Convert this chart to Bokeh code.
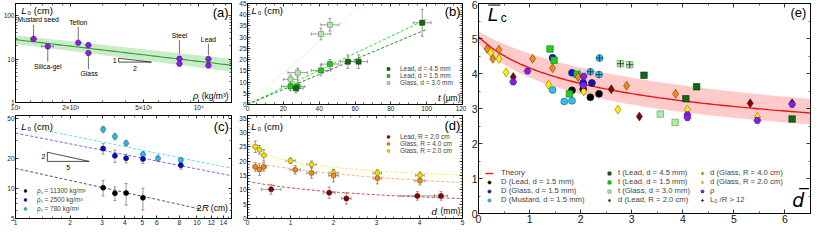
import numpy as np
from bokeh.plotting import figure
from bokeh.models import (Range1d, LinearAxis, LogAxis, FixedTicker, Whisker, TeeHead,
                          ColumnDataSource, Label, Legend, LegendItem)
from bokeh.layouts import row, column
from bokeh.embed import file_html
from bokeh.resources import INLINE

FONT = "Liberation Sans"

# ---------------- (a) L0 vs grain density ----------------
a_rho = [1255, 1500, 2200, 2500, 2500, 7850, 7850, 11300, 11300]
a_L0 = [29.0, 19.6, 23.7, 20.9, 13.8, 10.2, 7.8, 10.0, 7.1]
a_rho_err = [40, 110, 0, 0, 0, 0, 0, 0, 0]
a_fit_amp = 28.0          # L0 at rho = 1000
a_fit_exp = -0.5
a_x_ticks = [1000, 2000, 5000, 10000]
a_x_labels = ["10\u00b3", "2\u00d710\u00b3", "5\u00d710\u00b3", "10\u2074"]
a_y_ticks = [1, 10, 100]
a_y_labels = ["1", "10", "100"]

# ---------------- (b) L0 vs t ----------------
b_t_lead45 = [27, 56, 62, 97.5]
b_L_lead45 = [7.2, 19.1, 19.1, 36.4]
b_te_lead45 = [4, 4, 5, 5]
b_Le_lead45 = [2, 3, 3, 6]
b_t_lead15 = [24, 28, 41, 46]
b_L_lead15 = [8.1, 8.0, 15.2, 18.0]
b_te_lead15 = [5, 4, 5.4, 5]
b_Le_lead15 = [2, 2, 2.4, 2]
b_t_glass = [24, 28, 41, 46]
b_L_glass = [11.2, 14.2, 31.4, 35.5]
b_te_glass = [4, 5.4, 5.4, 5]
b_Le_glass = [2, 2, 2.6, 2.8]
b_slope = {"lead45": 0.335, "lead15": 0.38, "glass": 0.697}

# ---------------- (c) L0 vs 2R ----------------
c_2R_lead = [3.04, 3.53, 4.07, 5.04]
c_L_lead = [10.2, 8.96, 9.0, 8.07]
c_e_lead = [1.8, 1.4, 2.2, 2.0]
c_2R_glass = [3.04, 3.53, 4.07, 5.04, 8.15]
c_L_glass = [25.2, 21.3, 20.1, 19.8, 17.1]
c_e_glass = [3, 3, 2, 2, 1.5]
c_2R_must = [3.04, 3.53, 4.07, 5.04, 6.1, 8.15]
c_L_must = [39.2, 33.3, 28.5, 22.0, 20.1, 19.3]
c_e_must = [3, 2.5, 2, 1.5, 1.5, 1.2]
c_fit = {"lead": (15.9, -0.40), "glass": (36.0, -0.36), "must": (44.0, -0.37)}
c_x_ticks = [1, 2, 3, 4, 5, 6, 8, 10, 12, 14]
c_y_ticks = [5, 10, 20, 50]

# ---------------- (d) L0 vs d ----------------
d_d_lead = [0.55, 1.9, 2.3, 3.95, 4.5]
d_L_lead = [10.2, 9.0, 7.0, 7.9, 7.9]
d_de_lead = [0.23, 0.14, 0.11, 0.4, 0.15]
d_Le_lead = [1.7, 2.0, 2.0, 1.5, 1.5]
d_d_g4 = [0.18, 0.28, 0.38, 1.11, 1.49, 2.0, 3.02, 4.01]
d_L_g4 = [18.05, 17.1, 18.05, 17.0, 15.9, 15.0, 14.1, 13.2]
d_de_g4 = [0.05, 0.05, 0.06, 0.12, 0.11, 0.11, 0.1, 0.12]
d_Le_g4 = [1.5, 2.0, 1.5, 1.5, 1.8, 2.2, 2.0, 1.5]
d_d_g2 = [0.18, 0.28, 0.38, 1.0, 1.49, 2.0, 3.02, 4.01]
d_L_g2 = [25.1, 24.0, 22.1, 20.2, 18.9, 15.9, 15.9, 15.1]
d_de_g2 = [0.05, 0.05, 0.05, 0.11, 0.11, 0.11, 0.1, 0.1]
d_Le_g2 = [2.0, 1.5, 2.0, 1.0, 1.2, 1.2, 1.2, 1.2]
d_fit = {"lead": (21.9, 2.5, 0.57), "g4": (33.7, 3.0, 0.475), "g2": (20.7, 0.2, 0.186)}

# ---------------- (e) scaled L_c vs scaled d ----------------
e_Dlead_x = [1.83, 2.05, 2.19, 2.36]
e_Dlead_y = [3.52, 3.55, 3.32, 3.42]
e_Dglass_x = [1.45, 1.83, 2.05, 2.22]
e_Dglass_y = [4.45, 4.02, 3.73, 3.73]
e_Dmust_x = [1.45, 1.68, 1.83, 2.19, 2.37, 2.36]
e_Dmust_y = [3.53, 3.20, 3.22, 4.05, 4.44, 3.97]
e_tl45_x = [3.24, 4.06, 4.27, 6.14]
e_tl45_y = [3.95, 3.28, 3.62, 2.70]
e_tl15_x = [1.40, 1.48, 1.78, 1.93]
e_tl15_y = [4.70, 4.38, 3.42, 3.98]
e_tg_x = [2.78, 2.96, 3.56, 3.85]
e_tg_y = [4.28, 4.25, 2.84, 2.60]
e_dl_x = [0.68, 2.60, 3.15, 5.32, 6.14]
e_dl_y = [3.90, 3.55, 2.77, 3.15, 3.15]
e_dg4_x = [0.17, 0.28, 0.40, 1.06, 1.45, 1.95, 2.90, 3.86]
e_dg4_y = [4.70, 4.42, 4.68, 4.42, 4.15, 3.90, 3.65, 3.42]
e_dg2_x = [0.24, 0.40, 0.54, 1.37, 2.06, 2.73, 4.09, 5.46]
e_dg2_y = [4.60, 4.42, 4.03, 3.68, 3.49, 2.97, 2.97, 2.76]
e_rho_x = [0.68, 0.96, 2.06, 2.05, 4.09, 4.09, 5.46, 6.14]
e_rho_y = [3.76, 4.07, 3.92, 3.66, 2.82, 2.74, 2.66, 3.12]
e_big_must = [3, 4, 5]      # indices of mustard points with L0/R > 12
e_big_glass = [3]           # indices of glass-D points with L0/R > 12
e_big_tg = [0, 1]           # indices of glass-t points with L0/R > 12
e_theory = (5.05, 1.0, 0.28)
e_band_hi = (5.2, 2.0, 0.32)
e_band_lo = (4.85, 1.0, 0.32)


# ---------------- helpers ----------------
def make_fig(w, h, xr, yr, xt="linear", yt="linear", b=(0, 0, 0, 0)):
    bl, br, bt, bb = b
    p = figure(width=w, height=h, x_range=Range1d(*xr), y_range=Range1d(*yr),
               x_axis_type=xt, y_axis_type=yt, output_backend="svg",
               toolbar_location=None, min_border_left=bl, min_border_right=br,
               min_border_top=bt, min_border_bottom=bb)
    p.xgrid.visible = False
    p.ygrid.visible = False
    p.outline_line_color = "black"
    p.outline_line_width = 0.8
    p.background_fill_color = "white"
    p.border_fill_color = "white"
    return p


def style_axis(ax, ticks, minor, size=None, overrides=None, tl=3, mtl=2):
    ax.ticker = FixedTicker(ticks=ticks, minor_ticks=minor)
    ax.major_tick_in = tl
    ax.major_tick_out = 0
    ax.minor_tick_in = mtl
    ax.minor_tick_out = 0
    ax.axis_line_color = "black"
    ax.major_tick_line_color = "black"
    ax.minor_tick_line_color = "black"
    ax.axis_line_width = 0.8
    ax.major_tick_line_width = 0.8
    ax.minor_tick_line_width = 0.6
    ax.major_label_text_font = FONT
    if size:
        ax.major_label_text_font_size = size
        ax.major_label_standoff = 1
        ax.major_label_text_color = "#222222"
    else:
        ax.major_label_text_font_size = "1px"
        ax.major_label_text_alpha = 0
        ax.major_label_standoff = 0
    if overrides:
        ax.major_label_overrides = overrides


def axes(p, logx, logy, xt, xm, yt, ym, size, xo=None, yo=None, tl=3, mtl=2):
    style_axis(p.xaxis[0], xt, xm, size, xo, tl, mtl)
    style_axis(p.yaxis[0], yt, ym, size, yo, tl, mtl)
    top = LogAxis() if logx else LinearAxis()
    style_axis(top, xt, xm, None, None, tl, mtl)
    p.add_layout(top, "above")
    rgt = LogAxis() if logy else LinearAxis()
    style_axis(rgt, yt, ym, None, None, tl, mtl)
    p.add_layout(rgt, "right")


ERRC = "#707070"


def yerr(p, x, y, e):
    x, y, e = map(lambda v: np.asarray(v, float), (x, y, e))
    src = ColumnDataSource(dict(base=x, lower=y - e, upper=y + e))
    p.add_layout(Whisker(source=src, base="base", lower="lower", upper="upper",
                         dimension="height", line_color=ERRC, line_width=0.7, level="underlay",
                         upper_head=TeeHead(size=3, line_color=ERRC, line_width=0.7),
                         lower_head=TeeHead(size=3, line_color=ERRC, line_width=0.7)))


def xerr(p, x, y, e):
    x, y, e = map(lambda v: np.asarray(v, float), (x, y, e))
    m = e > 0
    src = ColumnDataSource(dict(base=y[m], lower=(x - e)[m], upper=(x + e)[m]))
    p.add_layout(Whisker(source=src, base="base", lower="lower", upper="upper",
                         dimension="width", line_color=ERRC, line_width=0.7, level="underlay",
                         upper_head=TeeHead(size=3, line_color=ERRC, line_width=0.7),
                         lower_head=TeeHead(size=3, line_color=ERRC, line_width=0.7)))


def txt(p, x, y, s, size="7px", align="left", italic=False, xo=0, yo=0,
        font=FONT, baseline="middle", color="black"):
    p.add_layout(Label(x=x, y=y, text=s, text_font=font, text_font_size=size,
                       text_align=align, text_baseline=baseline, x_offset=xo, y_offset=yo,
                       text_font_style="italic" if italic else "normal", text_color=color))


def legend(p, items, loc, size="6.5px", gw=8, gh=7, lh=7, stand=8):
    lg = Legend(items=[LegendItem(label=l, renderers=[r]) for l, r in items],
                location=loc, orientation="vertical", label_text_font=FONT,
                label_text_font_size=size, glyph_width=gw, glyph_height=gh,
                label_height=lh, label_standoff=stand, spacing=0, padding=0, margin=0,
                border_line_alpha=0, background_fill_alpha=0)
    p.add_layout(lg)


def L0_title(p, x, y):
    txt(p, x, y, "L", size="9.5px", italic=True)
    txt(p, x, y, "\u2080 (cm)", size="9.5px", xo=6)


# =============== panel (a) ===============
pa = make_fig(236, 113, (1000, 15100), (1, 190), "log", "log", b=(12, 5, 3, 9))
mn_a = [1200, 1400, 1600, 1800, 3000, 4000, 6000, 7000, 8000, 9000, 12000, 14000]
axes(pa, True, True, a_x_ticks, mn_a, a_y_ticks,
     [2, 3, 4, 5, 6, 7, 8, 9, 20, 30, 40, 50, 60, 70, 80, 90],
     "6.5px", dict(zip(a_x_ticks, a_x_labels)), dict(zip(a_y_ticks, a_y_labels)))
rx = np.geomspace(1000, 15100, 60)
fit = a_fit_amp * (rx / 1000.0) ** a_fit_exp
wid = 10 ** (0.10 + 0.04 * np.log10(rx / 1000.0))
pa.varea(x=rx, y1=fit / wid, y2=fit * wid, fill_color="#b8e6b8", fill_alpha=0.75, level="image")
pa.line(rx, fit, line_color="#2e9e2e", line_width=1.1)
xerr(pa, a_rho, a_L0, a_rho_err)
pa.scatter(a_rho, a_L0, marker="hex", size=6, fill_color="#8a1ee6", line_color="#40108a",
           line_width=0.6)
# slope triangle 1:2
tx0, tx1, ty0 = 3656.0, 5520.0, 8.5
ty1 = ty0 * (tx1 / tx0) ** 0.5
pa.patch([tx0, tx0, tx1], [ty1, ty0, ty0], fill_color="white", fill_alpha=0.8,
         line_color="black", line_width=0.7)
txt(pa, tx0, (ty0 * ty1) ** 0.5, "1", size="7px", align="right", xo=-2)
txt(pa, (tx0 * tx1) ** 0.5, ty0, "2", size="7px", align="center", yo=-6)
# material tags: (index, text, label x, label y, line from, line to)
a_ann = [(0, "Mustard seed", 1329, 82.6, 62, 33.2),
         (1, "Silica-gel", 1500, 6.8, 17.0, 8.66),
         (2, "Teflon", 2200, 68, 56, 27.4),
         (3, "Glass", 2527, 4.64, 12.1, 5.9),
         (5, "Steel", 7850, 34.9, 27.4, 13.3),
         (7, "Lead", 11300, 28.7, 22.6, 12.1)]
pa.segment(x0=[a_rho[i] for i, *_ in a_ann], y0=[q[4] for q in a_ann],
           x1=[a_rho[i] for i, *_ in a_ann], y1=[q[5] for q in a_ann],
           line_color="#333333", line_width=0.7)
for i, s, lx, ly, _, _ in a_ann:
    txt(pa, lx, ly, s, size="6.8px", align="center")
L0_title(pa, 1075, 133)
txt(pa, 14550, 121, "(a)", size="13px", align="right")
txt(pa, 14550, 1.42, "(kg/m\u00b3)", size="8.5px", align="right")
txt(pa, 14550, 1.42, "\u03c1", size="9.5px", align="right", italic=True, xo=-30)

# =============== panel (b) ===============
pb = make_fig(230, 113, (0, 120), (0, 45), b=(10, 4, 3, 9))
axes(pb, False, False, list(range(0, 121, 20)), [v for v in range(0, 121, 5) if v % 20],
     list(range(0, 46, 5)), [v for v in range(0, 46) if v % 5], "6.5px")
tt = np.linspace(0, 100, 2)
pb.line(tt, b_slope["glass"] * tt, line_color="#a8f0a0", line_width=1, line_dash="1 2")
pb.line(tt, b_slope["lead15"] * tt, line_color="#33dd33", line_width=1, line_dash="3 2")
pb.line(tt, b_slope["lead45"] * tt, line_color="#2a8a2a", line_width=1, line_dash="3 2")
for xs, ys, xe, ye in [(b_t_glass, b_L_glass, b_te_glass, b_Le_glass),
                       (b_t_lead15, b_L_lead15, b_te_lead15, b_Le_lead15),
                       (b_t_lead45, b_L_lead45, b_te_lead45, b_Le_lead45)]:
    xerr(pb, xs, ys, xe)
    yerr(pb, xs, ys, ye)
rb3 = pb.scatter(b_t_glass, b_L_glass, marker="square", size=5, fill_color="#a8eea0",
                 line_color="#6a8a6a", line_width=0.6)
rb2 = pb.scatter(b_t_lead15, b_L_lead15, marker="square", size=5, fill_color="#22cc22",
                 line_color="#117711", line_width=0.6)
rb1 = pb.scatter(b_t_lead45, b_L_lead45, marker="square", size=5, fill_color="#0b6e0b",
                 line_color="#053305", line_width=0.6)
legend(pb, [("Lead, d = 4.5 mm", rb1), ("Lead, d = 1.5 mm", rb2), ("Glass, d = 3.0 mm", rb3)],
       (137, 18))
L0_title(pb, 2.2, 41.7)
txt(pb, 118.9, 41.3, "(b)", size="13px", align="right")
txt(pb, 118.9, 2.9, "(\u03bcm)", size="8.5px", align="right")
txt(pb, 118.9, 2.9, "t", size="9.5px", align="right", italic=True, xo=-20)

# =============== panel (c) ===============
pc = make_fig(236, 115, (1, 15.5), (5, 54), "log", "log", b=(12, 5, 2, 10))
axes(pc, True, True, c_x_ticks, [1.2, 1.4, 1.6, 1.8, 2.5, 3.5, 4.5, 7, 9, 11, 13, 15],
     c_y_ticks, [6, 7, 8, 9, 30, 40], "6.5px",
     {v: str(v) for v in c_x_ticks}, {v: str(v) for v in c_y_ticks})
xl = np.geomspace(1, 10.5, 30)
xg = np.geomspace(1, 15.5, 30)
xm = np.geomspace(1.45, 15.5, 30)
pc.line(xm, c_fit["must"][0] * xm ** c_fit["must"][1], line_color="#66ddee", line_width=1,
        line_dash="3 2")
pc.line(xg, c_fit["glass"][0] * xg ** c_fit["glass"][1], line_color="#6666ee", line_width=1,
        line_dash="3 2")
pc.line(xl, c_fit["lead"][0] * xl ** c_fit["lead"][1], line_color="#555555", line_width=1,
        line_dash="3 2")
yerr(pc, c_2R_must, c_L_must, c_e_must)
yerr(pc, c_2R_glass, c_L_glass, c_e_glass)
yerr(pc, c_2R_lead, c_L_lead, c_e_lead)
rc3 = pc.scatter(c_2R_must, c_L_must, marker="circle", size=5, fill_color="#33bbdd",
                 line_color="#1a6a80", line_width=0.6)
rc2 = pc.scatter(c_2R_glass, c_L_glass, marker="circle", size=5, fill_color="#0a0acc",
                 line_color="#000066", line_width=0.6)
rc1 = pc.scatter(c_2R_lead, c_L_lead, marker="circle", size=5, fill_color="black",
                 line_color="black", line_width=0.6)
legend(pc, [("\u03c1\u209b = 11300 kg/m\u00b3", rc1), ("\u03c1\u209b = 2500 kg/m\u00b3", rc2),
            ("\u03c1\u209b = 780 kg/m\u00b3", rc3)], (6, 5))
cx0, cx1, cy0 = 1.498, 2.545, 18.7
cy1 = cy0 * (cx1 / cx0) ** 0.4
pc.patch([cx0, cx0, cx1], [cy1, cy0, cy0], fill_alpha=0, line_color="black", line_width=0.7)
txt(pc, cx0, (cy0 * cy1) ** 0.5, "2", size="7px", align="right", xo=-2)
txt(pc, (cx0 * cx1) ** 0.5, cy0, "5", size="7px", align="center", yo=-6)
L0_title(pc, 1.076, 42)
txt(pc, 14.98, 42, "(c)", size="13px", align="right")
txt(pc, 14.8, 6.44, "(cm)", size="8.5px", align="right")
txt(pc, 14.8, 6.44, "R", size="9.5px", align="right", italic=True, xo=-19)
txt(pc, 14.8, 6.44, "2", size="9.5px", align="right", xo=-26)

# =============== panel (d) ===============
pd = make_fig(230, 115, (0, 5), (0, 36), b=(10, 4, 2, 10))
axes(pd, False, False, [0, 1, 2, 3, 4, 5],
     [round(v * 0.2, 1) for v in range(0, 26) if v % 5], list(range(0, 36, 5)),
     [v for v in range(0, 37) if v % 5], "6.5px")
xd = np.linspace(0, 5, 60)
for key, col in [("g2", "#ffee55"), ("g4", "#ffb066"), ("lead", "#c05050")]:
    A, c0, pw_ = d_fit[key]
    pd.line(xd, A * (xd + c0) ** (-pw_), line_color=col, line_width=1, line_dash="3 2")
for xs, ys, xe_, ye in [(d_d_g2, d_L_g2, d_de_g2, d_Le_g2), (d_d_g4, d_L_g4, d_de_g4, d_Le_g4),
                        (d_d_lead, d_L_lead, d_de_lead, d_Le_lead)]:
    xerr(pd, xs, ys, xe_)
    yerr(pd, xs, ys, ye)
rd3 = pd.scatter(d_d_g2, d_L_g2, marker="circle", size=5, fill_color="#f2e000",
                 line_color="#8a7a00", line_width=0.6)
rd2 = pd.scatter(d_d_g4, d_L_g4, marker="circle", size=5, fill_color="#f08a1a",
                 line_color="#8a4a00", line_width=0.6)
rd1 = pd.scatter(d_d_lead, d_L_lead, marker="circle", size=5, fill_color="#8b0000",
                 line_color="#400000", line_width=0.6)
legend(pd, [("Lead, R = 2.0 cm", rd1), ("Glass, R = 4.0 cm", rd2), ("Glass, R = 2.0 cm", rd3)],
       (137, 64))
L0_title(pd, 0.09, 32.2)
txt(pd, 4.95, 32.5, "(d)", size="13px", align="right")
txt(pd, 4.95, 2.5, "(mm)", size="8.5px", align="right")
txt(pd, 4.95, 2.5, "d", size="9.5px", align="right", italic=True, xo=-23.5)

# =============== panel (e) ===============
pe = make_fig(348, 228, (0, 6.5), (0, 6), b=(12, 4, 3, 15))
axes(pe, False, False, [0, 1, 2, 3, 4, 5, 6], [0.5, 1.5, 2.5, 3.5, 4.5, 5.5, 6.5],
     [0, 1, 2, 3, 4, 5, 6], [0.5, 1.5, 2.5, 3.5, 4.5, 5.5], "10.5px", tl=4, mtl=2)
xe = np.linspace(0, 6.5, 120)


def pw(par, x):
    A, c0, p_ = par
    return A * (1 + x / c0) ** (-p_)


pe.varea(x=xe, y1=pw(e_band_lo, xe), y2=pw(e_band_hi, xe), fill_color="#ffc4c4",
         fill_alpha=0.9, level="image")
r_th = pe.line(xe, pw(e_theory, xe), line_color="#ee1111", line_width=1.4)
MS = 7
EDGE = "#222222"
r_dl = pe.scatter(e_Dlead_x, e_Dlead_y, marker="circle", size=MS, fill_color="black",
                  line_color=EDGE, line_width=0.6)
r_dg = pe.scatter(e_Dglass_x, e_Dglass_y, marker="circle", size=MS, fill_color="#1010ee",
                  line_color=EDGE, line_width=0.6)
r_dm = pe.scatter(e_Dmust_x, e_Dmust_y, marker="circle", size=MS, fill_color="#33bbee",
                  line_color="#226688", line_width=0.6)
r_t45 = pe.scatter(e_tl45_x, e_tl45_y, marker="square", size=MS - 0.5, fill_color="#0b6e0b",
                   line_color=EDGE, line_width=0.6)
r_t15 = pe.scatter(e_tl15_x, e_tl15_y, marker="square", size=MS - 0.5, fill_color="#22cc22",
                   line_color="#117711", line_width=0.6)
r_tg = pe.scatter(e_tg_x, e_tg_y, marker="square", size=MS - 0.5, fill_color="#a8eea0",
                  line_color="#6a8a6a", line_width=0.6)
r_dd = pe.scatter(e_dl_x, e_dl_y, marker="diamond", size=MS + 2, fill_color="#8b0000",
                  line_color=EDGE, line_width=0.6)
r_d4 = pe.scatter(e_dg4_x, e_dg4_y, marker="diamond", size=MS + 2, fill_color="#f08a1a",
                  line_color="#6a3a00", line_width=0.6)
r_d2 = pe.scatter(e_dg2_x, e_dg2_y, marker="diamond", size=MS + 2, fill_color="#ffee00",
                  line_color="#7a7000", line_width=0.6)
r_rho = pe.scatter(e_rho_x, e_rho_y, marker="hex", size=MS, fill_color="#8a1ee6",
                   line_color="#40108a", line_width=0.6)
big_x = ([e_Dmust_x[i] for i in e_big_must] + [e_Dglass_x[i] for i in e_big_glass]
         + [e_tg_x[i] for i in e_big_tg])
big_y = ([e_Dmust_y[i] for i in e_big_must] + [e_Dglass_y[i] for i in e_big_glass]
         + [e_tg_y[i] for i in e_big_tg])
r_big = pe.scatter(big_x, big_y, marker="cross", size=7, line_color="#222222", line_width=0.8)

LKW = dict(size="7.7px", gw=8, gh=8, lh=8)
legend(pe, [("Theory", r_th), ("D (Lead, d = 1.5 mm)", r_dl), ("D (Glass, d = 1.5 mm)", r_dg),
            ("D (Mustard, d = 1.5 mm)", r_dm)], (7, 9), stand=8, **LKW)
legend(pe, [("t (Lead, d = 4.5 mm)", r_t45), ("t (Lead, d = 1.5 mm)", r_t15),
            ("t (Glass, d = 3.0 mm)", r_tg), ("d (Lead, R = 2.0 cm)", r_dd)], (127, 9),
       stand=5, **LKW)
legend(pe, [("d (Glass, R = 4.0 cm)", r_d4), ("d (Glass, R = 2.0 cm)", r_d2),
            ("\u03c1", r_rho), ("L\u2080 /R > 12", r_big)], (220, 9), stand=4, **LKW)
# axis titles of (e): overlined L_c and d
txt(pe, 0.18, 5.70, "L", size="19px", italic=True)
txt(pe, 0.18, 5.58, "c", size="12px", xo=13)
pe.segment(x0=[0.19], y0=[5.955], x1=[0.43], y1=[5.955], line_color="black", line_width=1)
txt(pe, 6.42, 5.73, "(e)", size="13px", align="right")
txt(pe, 6.38, 0.40, "d\u0305", size="19px", italic=True, align="right", font="DejaVu Sans")

layout = row(column(pa, pc), column(pb, pd), pe)
open("out.html", "w").write(file_html(layout, INLINE))
